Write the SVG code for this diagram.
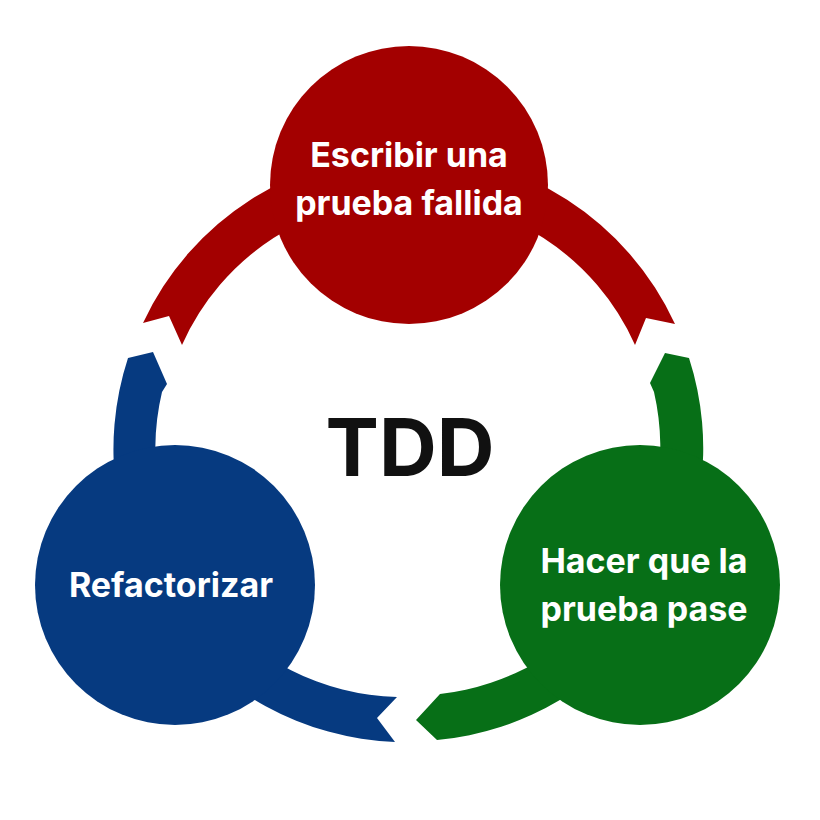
<svg xmlns="http://www.w3.org/2000/svg" width="820" height="820" viewBox="0 0 820 820">
<style>
.lbl{font-family:Inter,"Open Sans",sans-serif;font-weight:700;font-size:34px;fill:#fff;text-anchor:middle}
.red{fill:#A30000}.blue{fill:#063A80}.green{fill:#076F17}
</style>
<rect width="820" height="820" fill="#fff"/>
<g id="connectors">
<path class="red" d="M143,323 A293,293 0 0 1 675,324 L646,318 L635,345 A248,248 0 0 0 182,345 L169,316 Z"/>
<path class="blue" d="M153,352 L128,358 A293,293 0 0 0 395,742 L377,718 L397,697 A248,248 0 0 1 162,392 L167,384 Z"/>
<path class="green" d="M416,720 L440,694 A248,248 0 0 0 654,392 L650,383 L665,353 L689,358 A293,293 0 0 1 437,740 Z"/>
</g>
<g id="top"><circle class="red" cx="409" cy="185" r="139"/>
<text class="lbl" x="409" y="167">Escribir una</text><text class="lbl" x="409" y="215">prueba fallida</text></g>
<g id="left"><circle class="blue" cx="175" cy="585" r="140"/>
<text class="lbl" x="171" y="597">Refactorizar</text></g>
<g id="right"><circle class="green" cx="640" cy="585" r="140"/>
<text class="lbl" x="644" y="573">Hacer que la</text><text class="lbl" x="644" y="621">prueba pase</text></g>
<g id="center"><text x="410" y="476" font-family="Inter,'Open Sans',sans-serif" font-weight="700" font-size="80" text-anchor="middle" fill="#111">TDD</text></g>
</svg>
